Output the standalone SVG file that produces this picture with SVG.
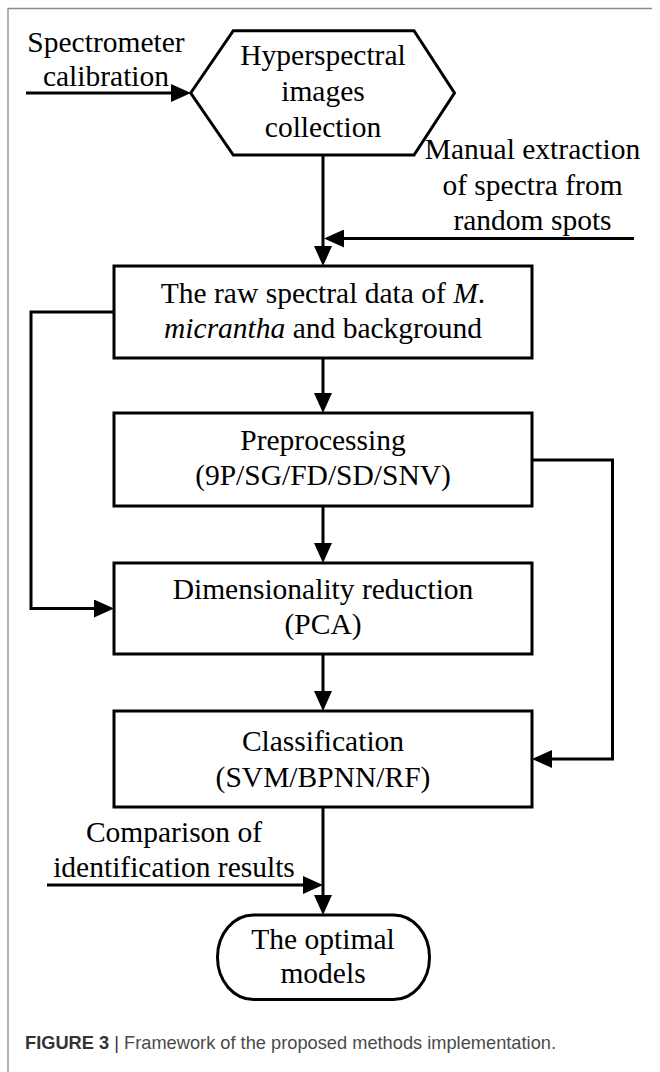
<svg xmlns="http://www.w3.org/2000/svg" width="660" height="1072" viewBox="0 0 660 1072">
<style>
.n{fill:#fff;stroke:#000;stroke-width:3;stroke-linejoin:miter}
.c{fill:none;stroke:#000;stroke-width:3}
.t{font-family:"Liberation Serif","Times New Roman",serif;font-size:29.5px;fill:#000;text-anchor:middle}
.cap{font-family:"Liberation Sans",Arial,sans-serif;font-size:18.2px;fill:#4a4a4a}
</style>
<defs>
<marker id="ah" markerWidth="20" markerHeight="18" refX="14" refY="9" orient="auto" markerUnits="userSpaceOnUse">
<path d="M0,0 L20,9 L0,18 z" fill="#000"/>
</marker>
</defs>
<rect width="660" height="1072" fill="#fff"/>
<path d="M8,1072 V8.5 H652" fill="none" stroke="#8a8a8a" stroke-width="1.3"/>

<g id="connectors">
<path class="c" d="M26,93 H185" marker-end="url(#ah)"/>
<path class="c" d="M323,155 V260" marker-end="url(#ah)"/>
<path class="c" d="M634,238.5 H330" marker-end="url(#ah)"/>
<path class="c" d="M323,358 V407" marker-end="url(#ah)"/>
<path class="c" d="M323,506 V557" marker-end="url(#ah)"/>
<path class="c" d="M323,654 V705" marker-end="url(#ah)"/>
<path class="c" d="M114,312 H31 V608.5 H108" marker-end="url(#ah)"/>
<path class="c" d="M532,460 H612.5 V759 H538" marker-end="url(#ah)"/>
<path class="c" d="M323,807 V909" marker-end="url(#ah)"/>
<path class="c" d="M47,885 H317" marker-end="url(#ah)"/>
</g>

<g id="label-spectrometer">
<text class="t" x="106" y="51.7">Spectrometer</text>
<text class="t" x="106" y="86">calibration</text>
</g>
<g id="label-manual">
<text class="t" x="532.5" y="159">Manual extraction</text>
<text class="t" x="532.5" y="194.5">of spectra from</text>
<text class="t" x="532.5" y="230">random spots</text>
</g>
<g id="label-comparison">
<text class="t" x="174" y="841.5">Comparison of</text>
<text class="t" x="174" y="877">identification results</text>
</g>

<g id="node-hyperspectral">
<polygon class="n" points="190.7,93 233.3,30.7 414,30.7 454.5,93 414,155 233.3,155"/>
<text class="t" x="323" y="65">Hyperspectral</text>
<text class="t" x="323" y="101">images</text>
<text class="t" x="323" y="137">collection</text>
</g>

<g id="node-raw">
<rect class="n" x="114" y="266" width="418" height="92"/>
<text class="t" x="323" y="303">The raw spectral data of <tspan font-style="italic">M</tspan>.</text>
<text class="t" x="323" y="338"><tspan font-style="italic">micrantha</tspan> and background</text>
</g>

<g id="node-preprocessing">
<rect class="n" x="114" y="413" width="418" height="93"/>
<text class="t" x="323" y="450">Preprocessing</text>
<text class="t" x="323" y="485">(9P/SG/FD/SD/SNV)</text>
</g>

<g id="node-dimred">
<rect class="n" x="114" y="563" width="418" height="91"/>
<text class="t" x="323" y="598.5">Dimensionality reduction</text>
<text class="t" x="323" y="634">(PCA)</text>
</g>

<g id="node-classification">
<rect class="n" x="114" y="711" width="418" height="96"/>
<text class="t" x="323" y="751">Classification</text>
<text class="t" x="323" y="786.5">(SVM/BPNN/RF)</text>
</g>

<g id="node-optimal">
<rect class="n" x="217.5" y="915" width="212" height="84.5" rx="36" ry="42"/>
<text class="t" x="323" y="949">The optimal</text>
<text class="t" x="323" y="983">models</text>
</g>

<g id="caption">
<text class="cap" x="25" y="1049" textLength="531" lengthAdjust="spacingAndGlyphs"><tspan font-weight="bold" fill="#333">FIGURE 3</tspan> <tspan fill="#333">|</tspan> Framework of the proposed methods implementation.</text>
</g>
</svg>
